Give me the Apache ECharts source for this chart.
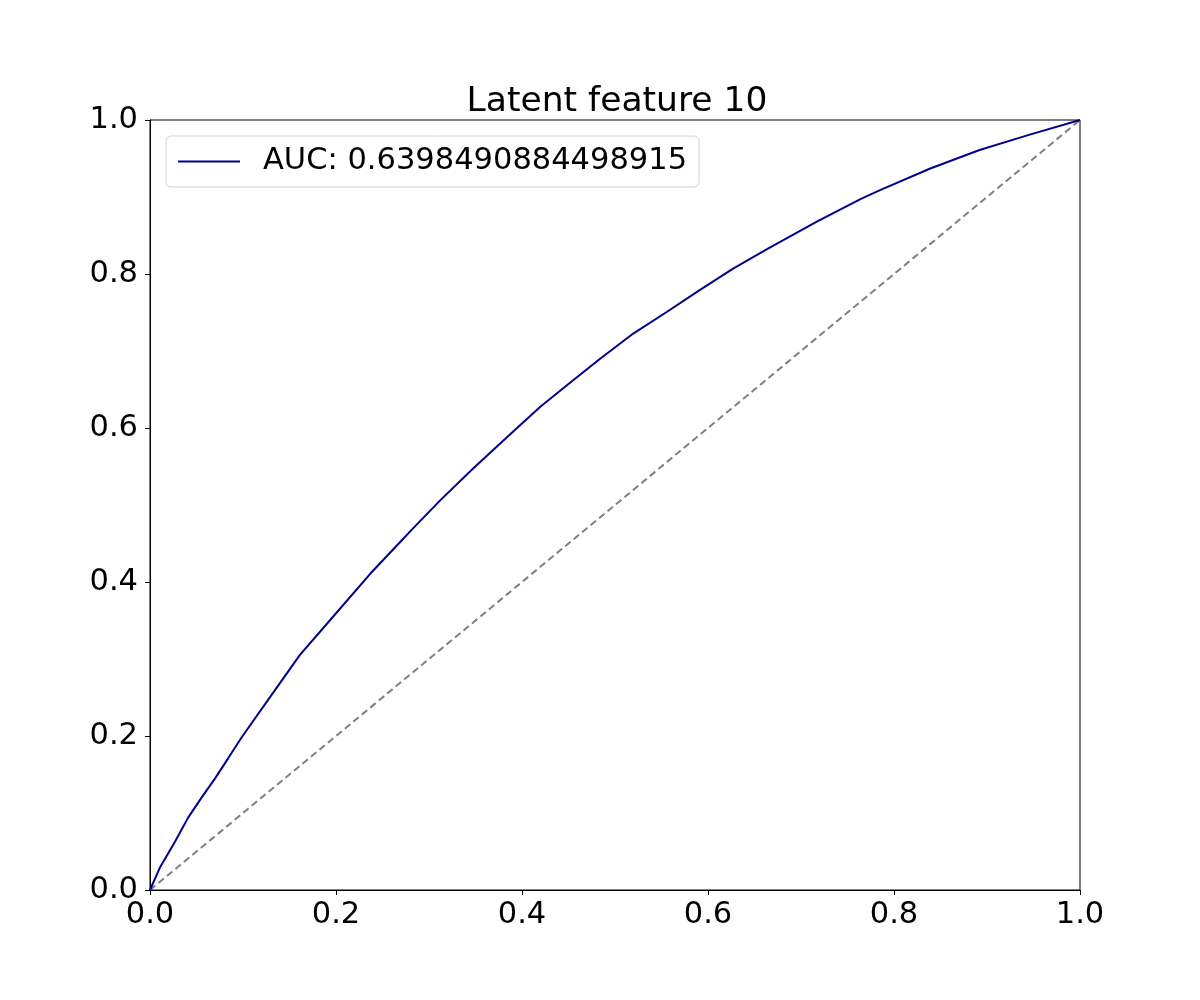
<!DOCTYPE html>
<html><head><meta charset="utf-8">
<script src="https://cdn.jsdelivr.net/npm/echarts@6/dist/echarts.min.js"></script>
<style>html,body{margin:0;padding:0;background:#fff}#c{width:1200px;height:1000px}</style>
</head><body><div id="c"></div>
<script>
const titleText = "Latent feature 10";
const seriesName = "AUC: 0.6398490884498915";
const fpr = [0, 0.011, 0.027, 0.041, 0.056, 0.070, 0.084, 0.099, 0.113, 0.127, 0.161, 0.194, 0.237, 0.269, 0.280, 0.312, 0.348, 0.392, 0.420, 0.455, 0.484, 0.520, 0.556, 0.591, 0.627, 0.663, 0.717, 0.765, 0.785, 0.839, 0.892, 0.946, 1.0];
const tpr = [0, 0.030, 0.063, 0.094, 0.121, 0.145, 0.171, 0.199, 0.223, 0.247, 0.305, 0.351, 0.411, 0.452, 0.466, 0.506, 0.548, 0.597, 0.628, 0.662, 0.690, 0.723, 0.751, 0.779, 0.807, 0.832, 0.868, 0.898, 0.909, 0.937, 0.961, 0.981, 1.0];
const diagX = [0, 1];
const diagY = [0, 1];

const font = "DejaVu Sans";
const chart = echarts.init(document.getElementById('c'), null, {renderer: 'canvas'});
const axisCommon = {
  type: 'value', min: 0, max: 1, interval: 0.2,
  axisLine: {show: true, onZero: false, lineStyle: {color: '#000', width: 1}},
  axisTick: {show: true, inside: false, length: 5, lineStyle: {color: '#000', width: 1}},
  axisLabel: {color: '#000', fontSize: 30.5, fontFamily: font, formatter: v => v.toFixed(1)},
  splitLine: {show: false}
};
chart.setOption({
  animation: false,
  backgroundColor: '#fff',
  title: {text: titleText, left: 612, textAlign: 'center', top: 80,
    textStyle: {color: '#000', fontSize: 34.5, fontWeight: 'normal', fontFamily: font}},
  grid: {left: 150, right: 120, top: 120, bottom: 110, show: true, borderColor: '#000', borderWidth: 1, backgroundColor: 'transparent'},
  xAxis: Object.assign({}, axisCommon, {axisLabel: Object.assign({}, axisCommon.axisLabel, {margin: 10})}),
  yAxis: Object.assign({}, axisCommon, {axisLabel: Object.assign({}, axisCommon.axisLabel, {margin: 12})}),
  legend: {
    data: [{name: seriesName, icon: 'path://M0,0H62V2H0Z'}], left: 166, top: 136,
    padding: [10, 12, 10, 12],
    itemWidth: 62, itemHeight: 2, itemGap: 10,
    borderColor: '#d0d0d0', borderWidth: 1, borderRadius: 5, backgroundColor: 'rgba(255,255,255,0.8)',
    textStyle: {color: '#000', fontSize: 30.5, fontFamily: font, padding: [0, 0, 0, 18]}
  },
  series: [
    {name: seriesName, type: 'line', symbol: 'none', data: fpr.map((x, i) => [x, tpr[i]]),
     lineStyle: {color: '#00008b', width: 2}, itemStyle: {color: '#00008b'}, z: 3},
    {name: 'diag', type: 'line', symbol: 'none', data: diagX.map((x, i) => [x, diagY[i]]),
     lineStyle: {color: '#808080', width: 2, type: [7, 4]}, z: 2}
  ]
});
</script></body></html>
